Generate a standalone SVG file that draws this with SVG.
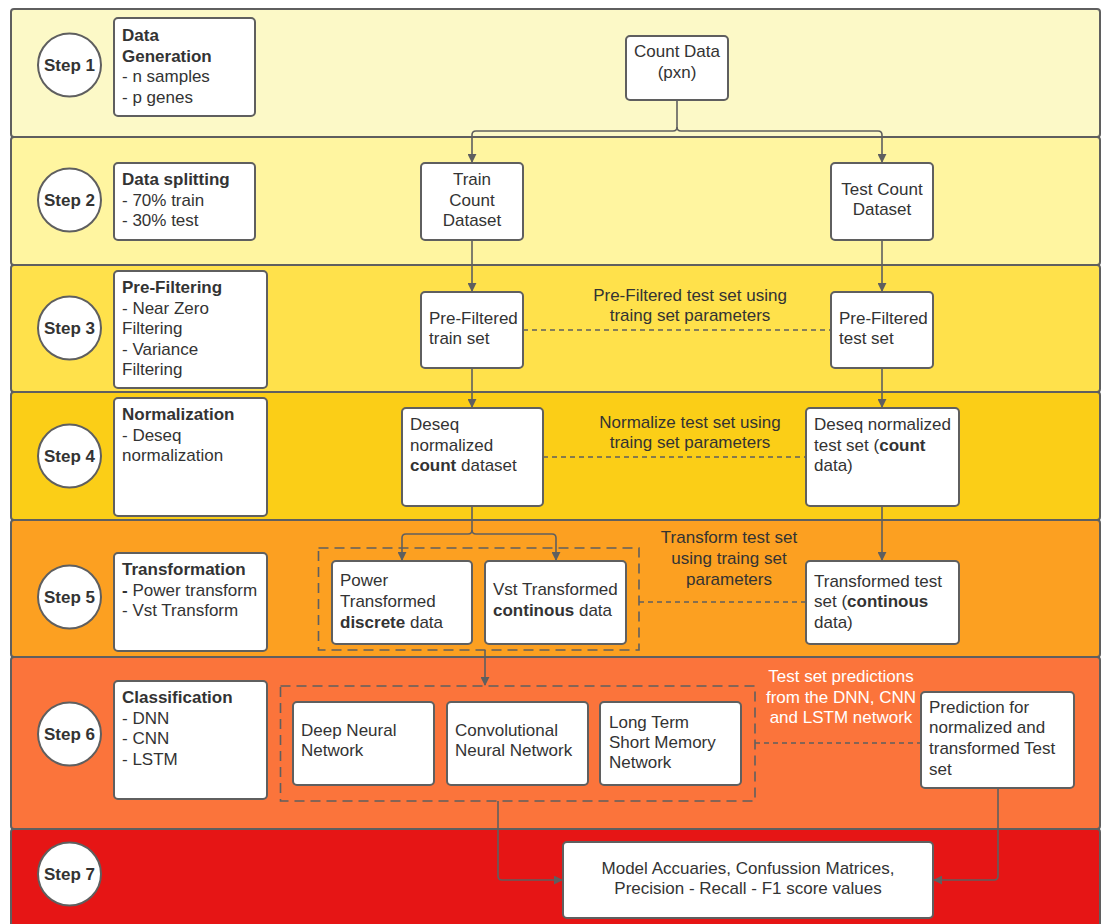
<svg xmlns="http://www.w3.org/2000/svg" width="1107" height="924" viewBox="0 0 1107 924">
  <defs>
    <marker id="arrow" viewBox="0 0 10 10" refX="9" refY="5" markerWidth="9" markerHeight="9" markerUnits="userSpaceOnUse" orient="auto">
      <path d="M0,0 L10,5 L0,10 z" fill="#5f5f5f"/>
    </marker>
    <style>
      .lane { stroke: #5f5f5f; stroke-width: 2; }
      .step circle { fill: #ffffff; stroke: #5f5f5f; stroke-width: 2; }
      .step text { font-family: "Liberation Sans", Arial, sans-serif; font-size: 17px; font-weight: bold; fill: #333333; text-anchor: middle; }
      .box { fill: #ffffff; stroke: #5f5f5f; stroke-width: 2; }
      text.t { font-family: "Liberation Sans", Arial, sans-serif; font-size: 17px; fill: #333333; }
      text.c { text-anchor: middle; }
      text.w { fill: #ffffff; }
      .b { font-weight: bold; }
      .flow { fill: none; stroke: #5f5f5f; stroke-width: 1.6; }
      .flow-arrow { marker-end: url(#arrow); }
      .dash { fill: none; stroke: #5f5f5f; stroke-width: 1.6; stroke-dasharray: 5 4; }
      .frame { fill: none; stroke: #5f5f5f; stroke-width: 1.6; stroke-dasharray: 10 6; }
    </style>
  </defs>

  <rect x="0" y="0" width="1107" height="924" fill="#ffffff"/>

  <!-- swim lanes -->
  <g id="lanes">
    <rect class="lane" x="11" y="9" width="1089" height="128" rx="3" fill="#fcf9c7"/>
    <rect class="lane" x="11" y="137" width="1089" height="128" rx="3" fill="#fff5a0"/>
    <rect class="lane" x="11" y="265" width="1089" height="127" rx="3" fill="#ffe14b"/>
    <rect class="lane" x="11" y="392" width="1089" height="128" rx="3" fill="#fbce17"/>
    <rect class="lane" x="11" y="520" width="1089" height="137" rx="3" fill="#fca021"/>
    <rect class="lane" x="11" y="657" width="1089" height="172" rx="3" fill="#fb743b"/>
    <rect class="lane" x="11" y="829" width="1089" height="110" rx="3" fill="#e61515"/>
  </g>

  <!-- step markers -->
  <g id="step1" class="step"><circle cx="69.5" cy="65" r="31.5"/><text x="69.5" y="71">Step 1</text></g>
  <g id="step2" class="step"><circle cx="69.5" cy="200" r="31.5"/><text x="69.5" y="206">Step 2</text></g>
  <g id="step3" class="step"><circle cx="69.5" cy="328" r="31.5"/><text x="69.5" y="334">Step 3</text></g>
  <g id="step4" class="step"><circle cx="69.5" cy="456" r="31.5"/><text x="69.5" y="462">Step 4</text></g>
  <g id="step5" class="step"><circle cx="69.5" cy="597" r="31.5"/><text x="69.5" y="603">Step 5</text></g>
  <g id="step6" class="step"><circle cx="69.5" cy="734" r="31.5"/><text x="69.5" y="740">Step 6</text></g>
  <g id="step7" class="step"><circle cx="69.5" cy="874" r="31.5"/><text x="69.5" y="880">Step 7</text></g>

  <!-- step descriptions -->
  <g id="desc1">
    <rect class="box" x="114" y="18" width="141" height="98" rx="4"/>
    <text class="t" x="122"><tspan class="b" y="41">Data</tspan><tspan class="b" x="122" y="61.5">Generation</tspan><tspan x="122" y="82">- n samples</tspan><tspan x="122" y="102.5">- p genes</tspan></text>
  </g>
  <g id="desc2">
    <rect class="box" x="114" y="163" width="141" height="77" rx="4"/>
    <text class="t" x="122"><tspan class="b" y="185">Data splitting</tspan><tspan x="122" y="205.5">- 70% train</tspan><tspan x="122" y="226">- 30% test</tspan></text>
  </g>
  <g id="desc3">
    <rect class="box" x="114" y="271" width="153" height="117" rx="4"/>
    <text class="t" x="122"><tspan class="b" y="293">Pre-Filtering</tspan><tspan x="122" y="313.5">- Near Zero</tspan><tspan x="122" y="334">Filtering</tspan><tspan x="122" y="354.5">- Variance</tspan><tspan x="122" y="375">Filtering</tspan></text>
  </g>
  <g id="desc4">
    <rect class="box" x="114" y="398" width="153" height="118" rx="4"/>
    <text class="t" x="122"><tspan class="b" y="420">Normalization</tspan><tspan x="122" y="440.5">- Deseq</tspan><tspan x="122" y="461">normalization</tspan></text>
  </g>
  <g id="desc5">
    <rect class="box" x="114" y="553" width="153" height="98" rx="4"/>
    <text class="t" x="122"><tspan class="b" y="575">Transformation</tspan><tspan x="122" y="595.5"><tspan class="b">-</tspan> Power transform</tspan><tspan x="122" y="616">- Vst Transform</tspan></text>
  </g>
  <g id="desc6">
    <rect class="box" x="114" y="681" width="153" height="118" rx="4"/>
    <text class="t" x="122"><tspan class="b" y="703">Classification</tspan><tspan x="122" y="723.5">- DNN</tspan><tspan x="122" y="744">- CNN</tspan><tspan x="122" y="764.5">- LSTM</tspan></text>
  </g>

  <!-- connectors -->
  <g id="connectors">
    <path class="flow flow-arrow" d="M677,100 V127 Q677,131 673,131 H476 Q472,131 472,135 V162"/>
    <path class="flow flow-arrow" d="M677,127 Q677,131 681,131 H878 Q882,131 882,135 V162"/>
    <path class="flow flow-arrow" d="M472,240 V291"/>
    <path class="flow flow-arrow" d="M882,240 V291"/>
    <path class="flow flow-arrow" d="M472,368 V407"/>
    <path class="flow flow-arrow" d="M882,368 V407"/>
    <path class="flow flow-arrow" d="M472,506 V530 Q472,534 468,534 H406 Q402,534 402,538 V560"/>
    <path class="flow flow-arrow" d="M472,530 Q472,534 476,534 H552 Q556,534 556,538 V560"/>
    <path class="flow flow-arrow" d="M882,506 V560"/>
    <path class="flow flow-arrow" d="M485,650 V685"/>
    <path class="flow flow-arrow" d="M498,801 V876 Q498,880 502,880 H562"/>
    <path class="flow flow-arrow" d="M998,788 V876 Q998,880 994,880 H934"/>
    <path class="dash" d="M523,330 H831"/>
    <path class="dash" d="M543,457 H806"/>
    <path class="dash" d="M639,602 H806"/>
    <path class="dash" d="M755,743 H921"/>
    <rect class="frame" x="318.5" y="548" width="320.5" height="102"/>
    <rect class="frame" x="280.5" y="686" width="474.5" height="115"/>
  </g>

  <!-- connector labels -->
  <g id="labels">
    <text class="t c" x="690"><tspan x="690" y="301">Pre-Filtered test set using</tspan><tspan x="690" y="321">traing set parameters</tspan></text>
    <text class="t c" x="690"><tspan x="690" y="428">Normalize test set using</tspan><tspan x="690" y="448">traing set parameters</tspan></text>
    <text class="t c" x="729"><tspan x="729" y="543">Transform test set</tspan><tspan x="729" y="564">using traing set</tspan><tspan x="729" y="585">parameters</tspan></text>
    <text class="t c w" x="841"><tspan x="841" y="682">Test set predictions</tspan><tspan x="841" y="703">from the DNN, CNN</tspan><tspan x="841" y="723">and LSTM network</tspan></text>
  </g>

  <!-- process nodes -->
  <g id="count-data">
    <rect class="box" x="626" y="36" width="102" height="64" rx="4"/>
    <text class="t c" x="677"><tspan x="677" y="57">Count Data</tspan><tspan x="677" y="78">(pxn)</tspan></text>
  </g>
  <g id="train-count">
    <rect class="box" x="421" y="163" width="102" height="77" rx="4"/>
    <text class="t c" x="472"><tspan x="472" y="185">Train</tspan><tspan x="472" y="206">Count</tspan><tspan x="472" y="226">Dataset</tspan></text>
  </g>
  <g id="test-count">
    <rect class="box" x="831" y="163" width="102" height="77" rx="4"/>
    <text class="t c" x="882"><tspan x="882" y="195">Test Count</tspan><tspan x="882" y="215">Dataset</tspan></text>
  </g>
  <g id="prefiltered-train">
    <rect class="box" x="421" y="292" width="102" height="76" rx="4"/>
    <text class="t" x="429"><tspan x="429" y="324">Pre-Filtered</tspan><tspan x="429" y="344">train set</tspan></text>
  </g>
  <g id="prefiltered-test">
    <rect class="box" x="831" y="292" width="102" height="76" rx="4"/>
    <text class="t" x="839"><tspan x="839" y="324">Pre-Filtered</tspan><tspan x="839" y="344">test set</tspan></text>
  </g>
  <g id="deseq-train">
    <rect class="box" x="402" y="408" width="141" height="98" rx="4"/>
    <text class="t" x="410"><tspan x="410" y="430">Deseq</tspan><tspan x="410" y="451">normalized</tspan><tspan x="410" y="471"><tspan class="b">count</tspan> dataset</tspan></text>
  </g>
  <g id="deseq-test">
    <rect class="box" x="806" y="408" width="153" height="98" rx="4"/>
    <text class="t" x="814"><tspan x="814" y="430">Deseq normalized</tspan><tspan x="814" y="451">test set (<tspan class="b">count</tspan></tspan><tspan x="814" y="471">data)</tspan></text>
  </g>
  <g id="power-transformed">
    <rect class="box" x="332" y="561" width="140" height="83" rx="4"/>
    <text class="t" x="340"><tspan x="340" y="586">Power</tspan><tspan x="340" y="607">Transformed</tspan><tspan x="340" y="628"><tspan class="b">discrete</tspan> data</tspan></text>
  </g>
  <g id="vst-transformed">
    <rect class="box" x="485" y="561" width="141" height="83" rx="4"/>
    <text class="t" x="493"><tspan x="493" y="595">Vst Transformed</tspan><tspan x="493" y="616"><tspan class="b">continous</tspan> data</tspan></text>
  </g>
  <g id="transformed-test">
    <rect class="box" x="806" y="561" width="153" height="83" rx="4"/>
    <text class="t" x="814"><tspan x="814" y="587">Transformed test</tspan><tspan x="814" y="607">set (<tspan class="b">continous</tspan></tspan><tspan x="814" y="628">data)</tspan></text>
  </g>
  <g id="dnn">
    <rect class="box" x="293" y="702" width="141" height="83" rx="4"/>
    <text class="t" x="301"><tspan x="301" y="736">Deep Neural</tspan><tspan x="301" y="756">Network</tspan></text>
  </g>
  <g id="cnn">
    <rect class="box" x="447" y="702" width="141" height="83" rx="4"/>
    <text class="t" x="455"><tspan x="455" y="736">Convolutional</tspan><tspan x="455" y="756">Neural Network</tspan></text>
  </g>
  <g id="lstm">
    <rect class="box" x="600" y="702" width="141" height="83" rx="4"/>
    <text class="t" x="609"><tspan x="609" y="728">Long Term</tspan><tspan x="609" y="748">Short Memory</tspan><tspan x="609" y="768">Network</tspan></text>
  </g>
  <g id="prediction">
    <rect class="box" x="921" y="692" width="153" height="96" rx="4"/>
    <text class="t" x="929"><tspan x="929" y="713">Prediction for</tspan><tspan x="929" y="733">normalized and</tspan><tspan x="929" y="754">transformed Test</tspan><tspan x="929" y="775">set</tspan></text>
  </g>
  <g id="results">
    <rect class="box" x="563" y="842" width="370" height="76" rx="4"/>
    <text class="t c" x="748"><tspan x="748" y="874">Model Accuaries, Confussion Matrices,</tspan><tspan x="748" y="894">Precision - Recall - F1 score values</tspan></text>
  </g>
</svg>
